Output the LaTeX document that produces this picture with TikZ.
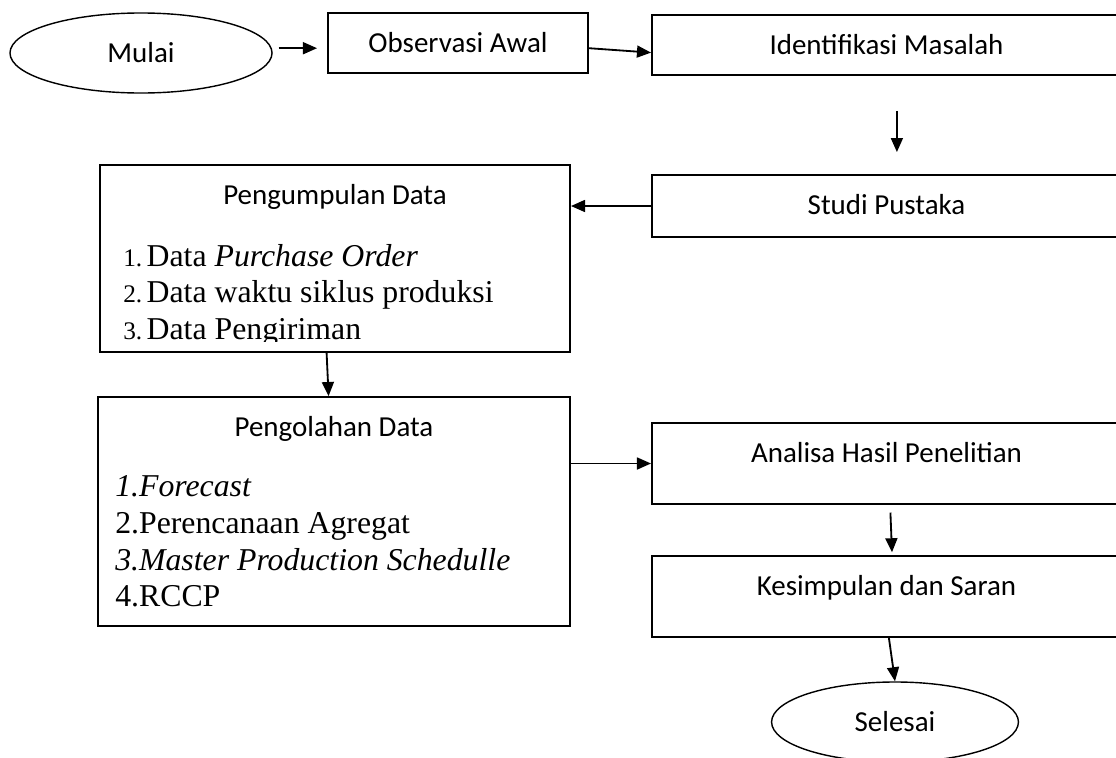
\documentclass[tikz,border=0pt]{standalone}
\usepackage{fontspec}
\setmainfont{Liberation Serif}
\newfontfamily\calibri{Carlito}
\usetikzlibrary{arrows.meta,shapes.geometric}
\tikzset{
    lbl/.style={font=\calibri\fontsize{20.6}{24}\selectfont, inner sep=0pt},
    box/.style={draw, line width=1.3pt, inner sep=0pt},
    ttl/.style={label={[lbl,anchor=base,yshift=-1cm]north:#1}},
    oval/.style={lbl, draw, ellipse, line width=1pt},
    item/.style={font=\fontsize{22.6}{26}\selectfont, inner sep=0pt, anchor=base west},
    arr/.style={line width=1.3pt, -{Triangle[length=10pt,width=8.5pt]}},
}
\begin{document}
\begin{tikzpicture}[x=0.025cm,y=-0.025cm]
        \useasboundingbox (0,0) rectangle (1116,757);
        \clip (0,0) rectangle (1116,757);

        \node[oval, minimum width=6.55cm, minimum height=2cm] (mulai) at (141,53) {Mulai};
        \node[box, ttl=Observasi Awal, minimum width=6.5cm, minimum height=1.5cm] (obs) at (458,43) {};
        \node[box, ttl=Identifikasi Masalah, minimum width=11.725cm, minimum height=1.5cm] (ident) at (886.5,45) {};
        \node[box, ttl=Studi Pustaka, minimum width=11.725cm, minimum height=1.55cm] (studi) at (886.5,206) {};

        \node[box, ttl=Pengumpulan Data, minimum width=11.75cm, minimum height=4.675cm] (kumpul) at (335,258.5) {};
        \begin{scope}
            \clip (100,165) rectangle (570,341.5);
            \node[item] (kumpul1) at (123,266) {\makebox[0.585cm][l]{\fontsize{18}{20}\selectfont 1.}Data \textit{Purchase Order}};
            \node[item] (kumpul2) at (123,302.7) {\makebox[0.585cm][l]{\fontsize{18}{20}\selectfont 2.}Data waktu siklus produksi};
            \node[item] (kumpul3) at (123,339.3) {\makebox[0.585cm][l]{\fontsize{18}{20}\selectfont 3.}Data Pengiriman};
        \end{scope}

        \node[box, ttl=Pengolahan Data, minimum width=11.8cm, minimum height=5.725cm] (olah) at (334,511.5) {};
        \node[item] (olah1) at (115,496) {\textit{1.Forecast}};
        \node[item] (olah2) at (115,533) {2.Perencanaan Agregat};
        \node[item] (olah3) at (115,570) {\textit{3.Master Production Schedulle}};
        \node[item] (olah4) at (115,606.5) {4.RCCP};

        \node[box, ttl=Analisa Hasil Penelitian, minimum width=11.725cm, minimum height=2.025cm] (analisa) at (886.5,463.5) {};
        \node[box, ttl=Kesimpulan dan Saran, minimum width=11.725cm, minimum height=2.025cm] (simpul) at (886.5,596.5) {};
        \node[oval, minimum width=6.17cm, minimum height=2cm] (selesai) at (895,722) {Selesai};

        \coordinate (m1) at ([yshift=0.12cm]mulai.east);
        \draw[arr, shorten <=0.15cm, shorten >=0.25cm] (m1) -- (m1 -| obs.west);
        \draw[arr] ([yshift=-0.13cm]obs.east) -- ([yshift=-0.19cm]ident.west);
        \draw[arr, shorten <=0.875cm, shorten >=0.55cm] ([xshift=0.26cm]ident.south) -- ([xshift=0.26cm]studi.north);
        \draw[arr] (studi.west) -- (studi.west -| kumpul.east);
        \draw[arr] ([xshift=-0.21cm]kumpul.south) -- ([xshift=-0.135cm]olah.north);
        \draw[arr] (analisa.west -| olah.east) -- (analisa.west);
        \draw[arr, shorten <=0.19cm, shorten >=0.07cm] ([xshift=0.09cm]analisa.south) -- ([xshift=0.14cm]simpul.north);
        \draw[arr] ([xshift=0.06cm]simpul.south) -- (selesai.north);
    \end{tikzpicture}
\end{document}
